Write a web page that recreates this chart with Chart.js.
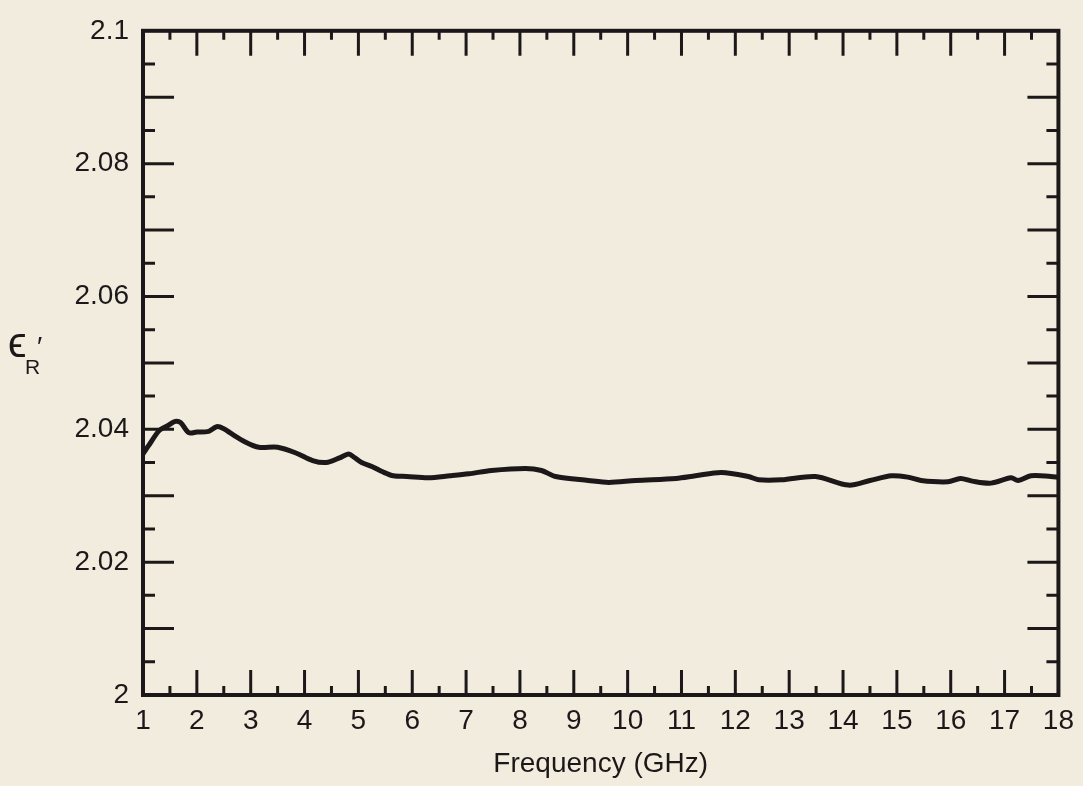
<!DOCTYPE html>
<html>
<head>
<meta charset="utf-8">
<script src="https://cdn.jsdelivr.net/npm/chart.js@4.4.0/dist/chart.umd.min.js"></script>
<style>
  html, body { margin: 0; padding: 0; background: #f2ecdf; }
  #wrap { position: relative; width: 1083px; height: 786px; }
</style>
</head>
<body>
<div id="wrap"><canvas id="chart"></canvas></div>
<script>
// frequency (GHz) and measured real permittivity
const freqGHz = [
  1.0, 1.1, 1.3, 1.45, 1.6, 1.7, 1.85, 2.0, 2.22, 2.37, 2.5, 2.65, 2.9, 3.15,
  3.5, 3.85, 4.15, 4.4, 4.65, 4.82, 4.92, 5.06, 5.25, 5.45, 5.65, 5.9, 6.3,
  6.7, 7.05, 7.47, 8.1, 8.4, 8.66, 9.27, 9.65, 10.15, 10.9, 11.26, 11.74,
  12.24, 12.43, 12.86, 13.49, 14.1, 14.5, 14.9, 15.2, 15.45, 15.95, 16.18,
  16.4, 16.75, 17.12, 17.25, 17.49, 17.86, 18.0
];
const epsReal = [
  2.0363, 2.0375, 2.0398, 2.0405, 2.0412, 2.0410, 2.0395, 2.0396, 2.0397, 2.0404,
  2.0401, 2.0393, 2.0381, 2.0373, 2.0373, 2.0364, 2.0353, 2.0350, 2.0357, 2.0363,
  2.0358, 2.0350, 2.0344, 2.0336, 2.0330, 2.0329, 2.0327, 2.0330, 2.0333, 2.0338,
  2.0341, 2.0338, 2.0329, 2.0323, 2.0320, 2.0323, 2.0326, 2.0330, 2.0335, 2.0329,
  2.0324, 2.0324, 2.0329, 2.0316, 2.0323, 2.0330, 2.0328, 2.0323, 2.0321, 2.0326,
  2.0322, 2.0319, 2.0327, 2.0323, 2.0330, 2.0329, 2.0328
];

const X_MIN = 1, X_MAX = 18;
const Y_MIN = 2, Y_MAX = 2.1;
const INK = '#1c1819';
const FONT = '"Liberation Sans", Arial, Helvetica, sans-serif';

// frame box plus inward tick marks on all four sides
const frameTicks = {
  id: 'frameTicks',
  afterDraw(chart) {
    const { ctx, chartArea: a, scales: { x, y } } = chart;
    ctx.save();
    ctx.strokeStyle = INK;
    ctx.lineCap = 'butt';

    ctx.lineWidth = 3;
    for (let i = 1; i < 2 * (X_MAX - X_MIN); i++) {
      const v = X_MIN + i * 0.5;
      const px = x.getPixelForValue(v);
      const len = i % 2 === 0 ? 25 : 9;
      ctx.beginPath();
      ctx.moveTo(px, a.bottom); ctx.lineTo(px, a.bottom - len);
      ctx.moveTo(px, a.top); ctx.lineTo(px, a.top + len);
      ctx.stroke();
    }
    for (let i = 1; i < 20; i++) {
      const v = Y_MIN + i * 0.005;
      const py = y.getPixelForValue(v);
      const len = i % 2 === 0 ? 31 : 12;
      ctx.beginPath();
      ctx.moveTo(a.left, py); ctx.lineTo(a.left + len, py);
      ctx.moveTo(a.right, py); ctx.lineTo(a.right - len, py);
      ctx.stroke();
    }

    ctx.lineWidth = 4;
    ctx.strokeRect(a.left, a.top, a.right - a.left, a.bottom - a.top);

    // y axis label: epsilon with subscript R and a prime
    ctx.fillStyle = INK;
    ctx.textBaseline = 'alphabetic';
    ctx.textAlign = 'left';
    ctx.font = '42px ' + FONT;
    ctx.fillText('\u03F5', 8, 357);
    ctx.font = '21px ' + FONT;
    ctx.fillText('R', 25, 374);
    ctx.font = '28px ' + FONT;
    ctx.fillText('\u2032', 37, 356);
    ctx.restore();
  }
};

new Chart(document.getElementById('chart'), {
  type: 'line',
  data: {
    datasets: [{
      data: freqGHz.map((f, i) => ({ x: f, y: epsReal[i] })),
      borderColor: INK,
      borderWidth: 5,
      pointRadius: 0,
      tension: 0.3,
      fill: false
    }]
  },
  options: {
    responsive: true,
    maintainAspectRatio: false,
    animation: false,
    layout: { padding: { left: 0, top: 20, right: 23, bottom: 0 } },
    plugins: { legend: { display: false }, tooltip: { enabled: false } },
    scales: {
      x: {
        type: 'linear',
        min: X_MIN, max: X_MAX,
        afterFit: s => { s.height = 91; },
        grid: { display: false, drawTicks: false },
        border: { display: false },
        ticks: { stepSize: 1, padding: 9, color: INK, font: { family: FONT, size: 28 } },
        title: {
          display: true, text: 'Frequency (GHz)', color: INK,
          font: { family: FONT, size: 28 }, padding: { top: 0, bottom: 5 }
        }
      },
      y: {
        min: Y_MIN, max: Y_MAX,
        afterFit: s => { s.width = 143; },
        grid: { display: false, drawTicks: false },
        border: { display: false },
        ticks: {
          stepSize: 0.02, padding: 14, color: INK,
          font: { family: FONT, size: 28 },
          callback: v => String(+v.toFixed(2))
        }
      }
    }
  },
  plugins: [frameTicks]
});
</script>
</body>
</html>
